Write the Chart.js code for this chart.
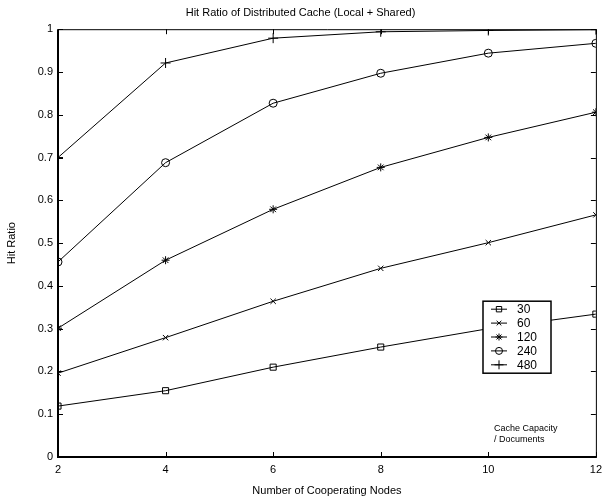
<!DOCTYPE html>
<html lang="en">
<head>
<meta charset="UTF-8">
<title>Hit Ratio of Distributed Cache</title>
<script src="https://cdn.jsdelivr.net/npm/chart.js"></script>
<style>
    body { margin: 0; background: #fff; }
    #wrap { width: 608px; height: 504px; }
</style>
</head>
<body>
<div id="wrap"><canvas id="hitRatio"></canvas></div>
<script>
// data
const nodes = [2, 4, 6, 8, 10, 12];
const capacities = ['30', '60', '120', '240', '480'];
const hit30  = [0.119, 0.155, 0.210, 0.257, 0.300, 0.334];
const hit60  = [0.196, 0.279, 0.364, 0.441, 0.501, 0.566];
const hit120 = [0.301, 0.460, 0.579, 0.677, 0.747, 0.806];
const hit240 = [0.456, 0.688, 0.827, 0.897, 0.944, 0.967];
const hit480 = [0.700, 0.921, 0.979, 0.994, 0.997, 0.999];
const yTicks = [0, 0.1, 0.2, 0.3, 0.4, 0.5, 0.6, 0.7, 0.8, 0.9, 1];

const series = [hit30, hit60, hit120, hit240, hit480];
const markers = ['rect', 'crossRot', 'star', 'circle', 'cross'];
const markerSize = [4.3, 3.8, 4, 4, 5];
const FONT = "'Liberation Sans', Arial, sans-serif";

const datasets = series.map((vals, i) => ({
    label: capacities[i],
    data: nodes.map((n, j) => ({ x: n, y: vals[j] })),
    borderColor: '#000',
    borderWidth: 1,
    pointStyle: markers[i],
    pointRadius: markerSize[i],
    pointBorderColor: '#000',
    pointBackgroundColor: 'rgba(0,0,0,0)',
    pointBorderWidth: 1,
    tension: 0,
    fill: false
}));

// box, inward ticks, in-plot legend and note
const framePlugin = {
    id: 'frame',
    afterDatasetsDraw(chart) {
        const { ctx, chartArea: a, scales: { x, y } } = chart;
        ctx.save();
        ctx.strokeStyle = '#000';
        ctx.lineWidth = 1;
        ctx.beginPath();
        x.ticks.forEach(t => {
            const px = Math.round(x.getPixelForValue(t.value)) + 0.5;
            ctx.moveTo(px, a.bottom); ctx.lineTo(px, a.bottom - 5);
            ctx.moveTo(px, a.top); ctx.lineTo(px, a.top + 5);
        });
        y.ticks.forEach(t => {
            const py = Math.round(y.getPixelForValue(t.value)) + 0.5;
            ctx.moveTo(a.left, py); ctx.lineTo(a.left + 5, py);
            ctx.moveTo(a.right, py); ctx.lineTo(a.right - 5, py);
        });
        ctx.stroke();

        ctx.beginPath();
        ctx.moveTo(a.left, a.top + 0.5); ctx.lineTo(a.right + 0.5, a.top + 0.5);
        ctx.lineTo(a.right + 0.5, a.bottom);
        ctx.stroke();
        ctx.lineWidth = 2;
        ctx.beginPath();
        ctx.moveTo(a.left, a.top); ctx.lineTo(a.left, a.bottom);
        ctx.lineTo(a.right + 1, a.bottom);
        ctx.stroke();

        // legend box
        const bx = a.left + 425, by = a.top + 272, bw = 68, bh = 72;
        ctx.fillStyle = '#fff';
        ctx.fillRect(bx, by, bw, bh);
        ctx.lineWidth = 1.5;
        ctx.strokeRect(bx, by, bw, bh);
        ctx.font = '12px ' + FONT;
        ctx.textBaseline = 'middle';
        ctx.textAlign = 'left';
        chart.data.datasets.forEach((ds, i) => {
            const ry = by + 8 + i * 13.9;
            ctx.lineWidth = 1;
            ctx.beginPath();
            ctx.moveTo(bx + 8, ry); ctx.lineTo(bx + 24, ry);
            ctx.stroke();
            ctx.fillStyle = 'rgba(0,0,0,0)';
            Chart.helpers.drawPoint(ctx, {
                pointStyle: ds.pointStyle, radius: ds.pointRadius - 0.5, borderWidth: 1
            }, bx + 16, ry);
            ctx.fillStyle = '#000';
            ctx.fillText(ds.label, bx + 34, ry + 0.5);
        });

        ctx.font = '9px ' + FONT;
        ctx.fillText('Cache Capacity', a.left + 436, a.top + 399);
        ctx.fillText('/ Documents', a.left + 436, a.top + 410);
        ctx.restore();
    }
};

new Chart(document.getElementById('hitRatio'), {
    type: 'line',
    data: { datasets: datasets },
    options: {
        responsive: true,
        maintainAspectRatio: false,
        animation: false,
        layout: { padding: { left: 0, right: 7, top: 0, bottom: 0 } },
        plugins: {
            legend: { display: false },
            tooltip: { enabled: false },
            title: {
                display: true,
                text: 'Hit Ratio of Distributed Cache (Local + Shared)',
                color: '#000',
                font: { family: FONT, size: 11, weight: 'normal' },
                padding: { top: 6, bottom: 10 }
            }
        },
        scales: {
            x: {
                type: 'linear',
                min: 2,
                max: 12,
                afterFit: s => { s.height = 47; },
                afterBuildTicks: s => { s.ticks = nodes.map(v => ({ value: v })); },
                grid: { display: false, drawTicks: false },
                border: { display: false },
                ticks: {
                    padding: 6,
                    color: '#000',
                    font: { family: FONT, size: 11 },
                    maxRotation: 0
                },
                title: {
                    display: true,
                    text: 'Number of Cooperating Nodes',
                    color: '#000',
                    font: { family: FONT, size: 11 },
                    padding: { top: 0, bottom: 6 }
                }
            },
            y: {
                min: 0,
                max: 1,
                afterFit: s => { s.width = 58; },
                afterBuildTicks: s => { s.ticks = yTicks.map(v => ({ value: v })); },
                grid: { display: false, drawTicks: false },
                border: { display: false },
                ticks: {
                    padding: 5,
                    color: '#000',
                    font: { family: FONT, size: 11 },
                    callback: v => String(parseFloat(v.toFixed(1)))
                },
                title: {
                    display: true,
                    text: 'Hit Ratio',
                    color: '#000',
                    font: { family: FONT, size: 11 },
                    padding: { top: 5, bottom: 0 }
                }
            }
        }
    },
    plugins: [framePlugin]
});
</script>
</body>
</html>
